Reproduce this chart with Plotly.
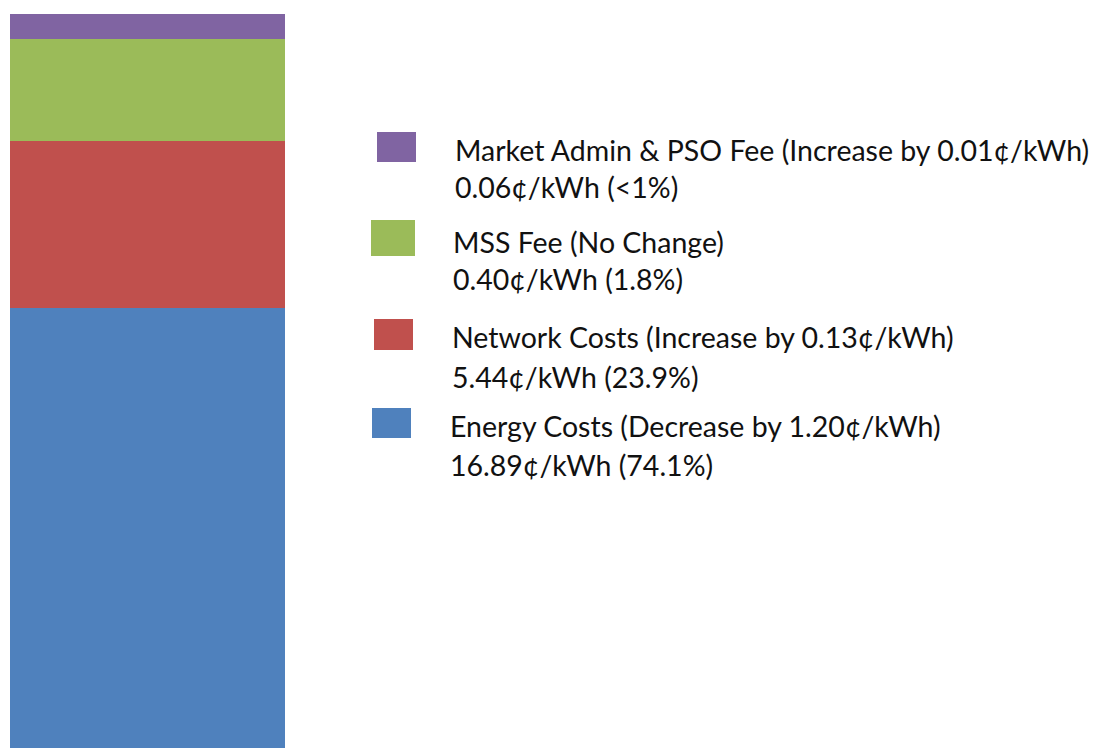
import plotly.graph_objects as go

W, H = 1094, 748

# Components (top of stack first in the legend)
names = ["Market Admin & PSO Fee", "MSS Fee", "Network Costs", "Energy Costs"]
changes = ["(Increase by 0.01¢/kWh)", "(No Change)", "(Increase by 0.13¢/kWh)", "(Decrease by 1.20¢/kWh)"]
values = [0.06, 0.40, 5.44, 16.89]           # ¢/kWh
shares = ["<1%", "1.8%", "23.9%", "74.1%"]
colors = ["#8064A2", "#9BBB59", "#C0504D", "#4F81BD"]
# Displayed segment heights (relative units, not proportional to values)
bar_heights = [25, 102, 167, 440]

fig = go.Figure()

# stacked bar drawn bottom-up
for nm, h, c in zip(reversed(names), reversed(bar_heights), reversed(colors)):
    fig.add_trace(go.Bar(x=[147], y=[h], width=[275], name=nm,
                         marker=dict(color=c, line=dict(width=0)),
                         showlegend=False, hoverinfo="skip"))

# custom legend
sq_y = [147, 238, 334.5, 423]
sq_x = [396.5, 393, 393.5, 391.5]
sq_w = [39, 44, 39, 39]
sq_h = [30, 36, 31, 30]
txt_x = [453, 451, 450, 448]
l1_y = [150, 242, 337, 426]
l2_y = [187, 279, 377, 465]

font = dict(family="Lato, 'Open Sans', sans-serif", size=28.5, color="#111111")
for i in range(4):
    fig.add_shape(type="rect", xref="paper", yref="paper",
                  x0=(sq_x[i] - sq_w[i] / 2) / W, x1=(sq_x[i] + sq_w[i] / 2) / W,
                  y0=1 - (sq_y[i] + sq_h[i] / 2) / H, y1=1 - (sq_y[i] - sq_h[i] / 2) / H,
                  fillcolor=colors[i], line=dict(width=0))
    fig.add_annotation(xref="paper", yref="paper", x=txt_x[i] / W, y=1 - l1_y[i] / H,
                       xanchor="left", yanchor="middle", showarrow=False,
                       text=f"{names[i]} {changes[i]}", font=font)
    fig.add_annotation(xref="paper", yref="paper", x=txt_x[i] / W, y=1 - l2_y[i] / H,
                       xanchor="left", yanchor="middle", showarrow=False,
                       text=f"{values[i]:.2f}¢/kWh ({shares[i]})", font=font)

fig.update_layout(
    barmode="stack", width=W, height=H,
    margin=dict(l=0, r=0, t=0, b=0),
    paper_bgcolor="white", plot_bgcolor="white",
    xaxis=dict(range=[0, W], visible=False, fixedrange=True),
    yaxis=dict(range=[0, H], visible=False, fixedrange=True),
)

fig.write_html("out.html")
